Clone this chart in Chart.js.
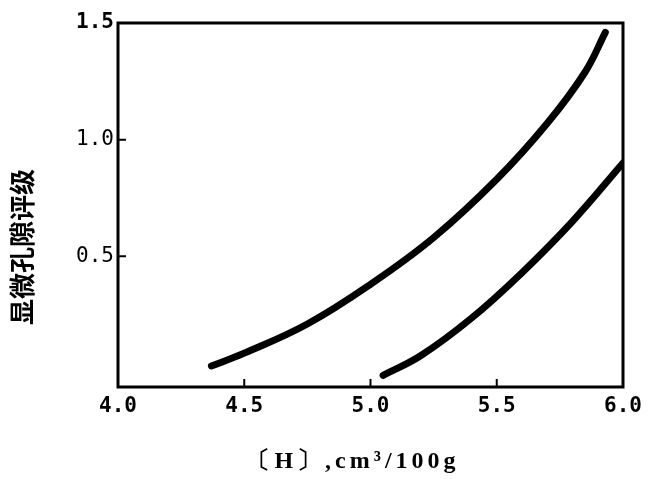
<!DOCTYPE html>
<html>
<head>
<meta charset="utf-8">
<script src="https://cdn.jsdelivr.net/npm/chart.js@4/dist/chart.umd.min.js"></script>
<style>
  html, body { margin: 0; padding: 0; background: #fff; }
  #wrap { width: 649px; height: 479px; }
</style>
</head>
<body>
<div id="wrap"><canvas id="chart" width="649" height="479"></canvas></div>
<script>
// data
const upperH = [4.37, 4.5, 4.75, 5.0, 5.25, 5.5, 5.7, 5.85, 5.93];
const upperGrade = [0.03, 0.085, 0.21, 0.38, 0.58, 0.83, 1.07, 1.29, 1.46];
const lowerH = [5.05, 5.2, 5.4, 5.6, 5.8, 6.0];
const lowerGrade = [-0.01, 0.075, 0.235, 0.43, 0.65, 0.90];

const xTicks = [4.0, 4.5, 5.0, 5.5, 6.0];
const yTicks = [0.5, 1.0, 1.5];

const xTitle = '〔H〕,cm³/100g';
const yTitle = '显微孔隙评级';

function toPoints(xs, ys) {
    return xs.map((x, i) => ({ x: x, y: ys[i] }));
}

// frame, inward tick marks and axis titles
const framePlugin = {
    id: 'frame',
    afterDraw(chart) {
        const ctx = chart.ctx;
        const area = chart.chartArea;
        const xs = chart.scales.x;
        const ys = chart.scales.y;
        ctx.save();
        ctx.strokeStyle = '#000';
        ctx.lineWidth = 3;
        ctx.strokeRect(area.left, area.top, area.right - area.left, area.bottom - area.top);

        ctx.lineWidth = 2;
        ctx.beginPath();
        [4.5, 5.0, 5.5].forEach(v => {
            const px = xs.getPixelForValue(v);
            ctx.moveTo(px, area.bottom);
            ctx.lineTo(px, area.bottom - 8);
        });
        [0.5, 1.0].forEach(v => {
            const py = ys.getPixelForValue(v);
            ctx.moveTo(area.left, py);
            ctx.lineTo(area.left + 8, py);
        });
        ctx.stroke();

        ctx.fillStyle = '#000';
        ctx.textAlign = 'center';
        ctx.textBaseline = 'middle';
        ctx.font = 'bold 24px "Liberation Serif"';
        ctx.letterSpacing = '4px';
        ctx.fillText(xTitle, 353, 462);
        ctx.letterSpacing = '0px';

        ctx.translate(22, 247);
        ctx.rotate(-Math.PI / 2);
        ctx.font = 'bold 26px "Noto Sans CJK SC"';
        ctx.fillText(yTitle, 0, 0);
        ctx.restore();
    }
};

const lineStyle = {
    showLine: true,
    borderColor: '#000',
    borderWidth: 7,
    borderCapStyle: 'round',
    borderJoinStyle: 'round',
    pointRadius: 0,
    fill: false,
    tension: 0.4
};

new Chart(document.getElementById('chart').getContext('2d'), {
    type: 'scatter',
    data: {
        datasets: [
            Object.assign({ label: 'upper', data: toPoints(upperH, upperGrade) }, lineStyle),
            Object.assign({ label: 'lower', data: toPoints(lowerH, lowerGrade) }, lineStyle)
        ]
    },
    options: {
        responsive: false,
        animation: false,
        layout: { padding: { left: 0, right: 26, top: 23, bottom: 0 } },
        plugins: {
            legend: { display: false },
            tooltip: { enabled: false }
        },
        scales: {
            x: {
                type: 'linear',
                min: 4,
                max: 6,
                afterFit(scale) { scale.height = 92; },
                afterBuildTicks(scale) { scale.ticks = xTicks.map(v => ({ value: v })); },
                grid: { display: false, drawTicks: false },
                border: { display: false },
                ticks: {
                    color: '#000',
                    padding: 7,
                    maxRotation: 0,
                    font: { family: 'DejaVu Sans Mono', size: 21, weight: 'bold' },
                    callback: v => v.toFixed(1)
                }
            },
            y: {
                type: 'linear',
                min: -0.06,
                max: 1.5,
                afterFit(scale) { scale.width = 118; },
                afterBuildTicks(scale) { scale.ticks = yTicks.map(v => ({ value: v })); },
                grid: { display: false, drawTicks: false },
                border: { display: false },
                ticks: {
                    color: '#000',
                    padding: 4,
                    font: ctx => ({
                        family: 'DejaVu Sans Mono',
                        size: 21,
                        weight: ctx.tick && ctx.tick.value === 1.5 ? 'bold' : 'normal'
                    }),
                    callback: v => v.toFixed(1)
                }
            }
        }
    },
    plugins: [framePlugin]
});
</script>
</body>
</html>
